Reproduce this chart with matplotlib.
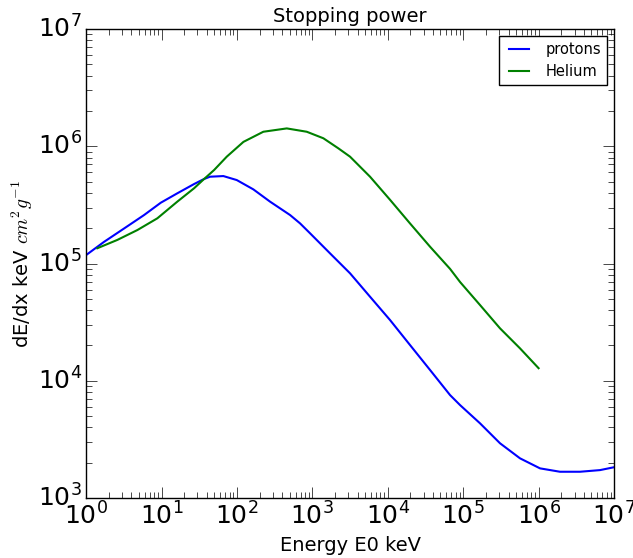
import matplotlib
matplotlib.use("Agg")
import matplotlib.pyplot as plt

plt.style.use("classic")

# energies in keV and stopping power in keV cm^2 / g
proton_energy = [1.0, 1.73, 3.19, 5.87, 9.78, 16.2, 27.0, 36.7, 44.0, 66.1,
                 99.5, 165, 275, 507, 687, 933, 1718, 3162, 5821, 1.07e4,
                 1.97e4, 3.64e4, 6.70e4, 9.1e4, 1.67e5, 3.08e5, 5.67e5,
                 1.045e6, 1.92e6, 3.54e6, 6.52e6, 1e7]
proton_dedx = [1.18e5, 1.53e5, 1.99e5, 2.59e5, 3.30e5, 3.97e5, 4.76e5, 5.26e5,
               5.50e5, 5.57e5, 5.15e5, 4.29e5, 3.37e5, 2.59e5, 2.20e5, 1.81e5,
               1.22e5, 8.25e4, 5.21e4, 3.30e4, 2.02e4, 1.235e4, 7.55e3, 6.2e3,
               4.34e3, 2.93e3, 2.18e3, 1.79e3, 1.675e3, 1.675e3, 1.73e3, 1.83e3]

helium_energy = [1.41, 2.60, 4.79, 8.81, 16.2, 27.0, 36.7, 49.8, 73.3, 122,
                 224, 458, 843, 1400, 2213, 3162, 5821, 1.07e4, 1.97e4,
                 3.64e4, 6.70e4, 9.1e4, 1.67e5, 3.08e5, 5.67e5, 1e6]
helium_dedx = [1.35e5, 1.59e5, 1.93e5, 2.43e5, 3.37e5, 4.38e5, 5.26e5, 6.27e5,
               8.15e5, 1.09e6, 1.33e6, 1.42e6, 1.33e6, 1.17e6, 9.6e5, 8.15e5,
               5.50e5, 3.50e5, 2.20e5, 1.39e5, 9.0e4, 6.95e4, 4.43e4, 2.80e4,
               1.89e4, 1.28e4]

fig = plt.figure(figsize=(6.33, 5.58), dpi=100)
ax = fig.add_axes([0.136, 0.1075, 0.834, 0.8405])

ax.loglog(proton_energy, proton_dedx, color="b", lw=1.5, label="protons")
ax.loglog(helium_energy, helium_dedx, color="g", lw=1.5, label="Helium")

ax.set_xlim(1, 1e7)
ax.set_ylim(1e3, 1e7)
ax.tick_params(axis="both", which="major", labelsize=18, length=8, pad=3)
ax.tick_params(axis="both", which="minor", length=4)

ax.set_title("Stopping power", fontsize=14)
ax.set_xlabel("Energy E0 keV", fontsize=14)
ax.set_ylabel(r"dE/dx keV $cm^2 g^{-1}$", fontsize=14, labelpad=2)
ax.legend(loc="upper right", fontsize=10.5)

fig.savefig("out.png", dpi=100, facecolor="white")
